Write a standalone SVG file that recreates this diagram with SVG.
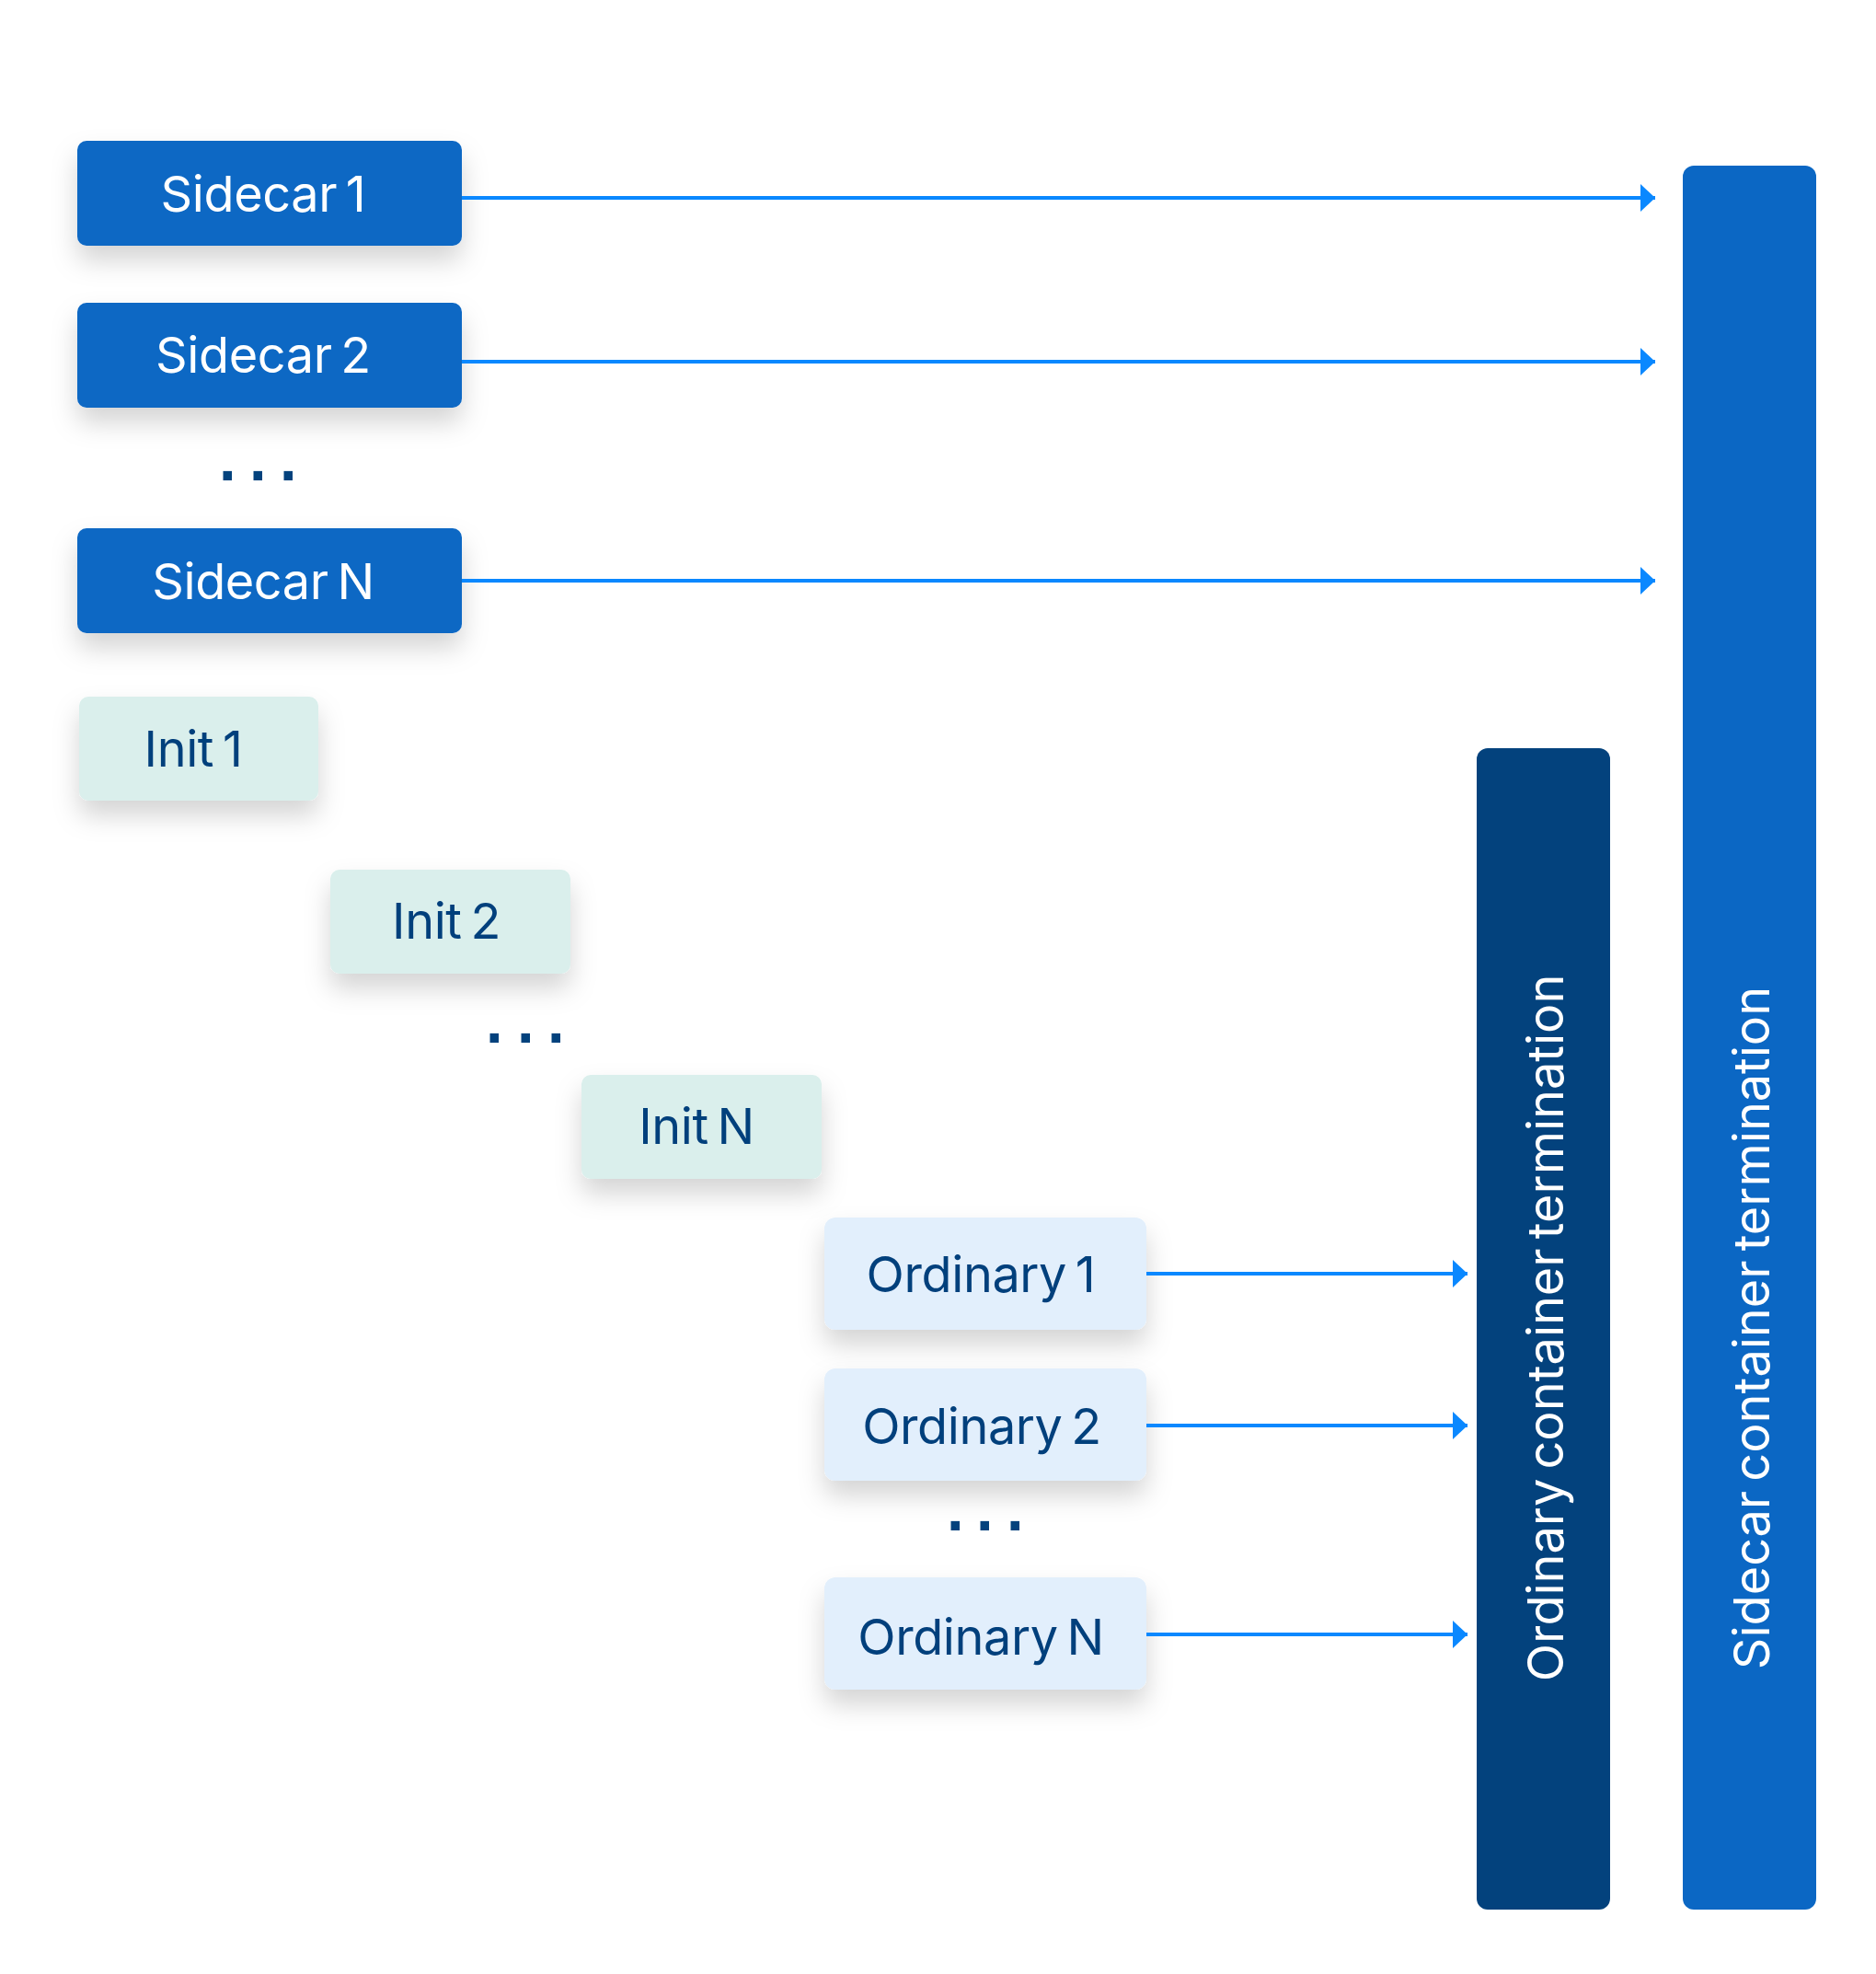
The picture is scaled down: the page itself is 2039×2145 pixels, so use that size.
<svg xmlns="http://www.w3.org/2000/svg" width="2039" height="2145" viewBox="0 0 2039 2145">
<style>
.lbl{font-family:Inter,"Noto Sans","Liberation Sans",sans-serif;font-size:54px;text-anchor:middle;letter-spacing:-0.4px;word-spacing:-5px}
.vert{letter-spacing:0px;word-spacing:-5px}
.w{fill:#ffffff}
.d{fill:#053F7C}
.dots{font-family:"DejaVu Sans","Liberation Sans",sans-serif;font-size:54px;font-weight:700;fill:#03427D}
.side{fill:#0B67C4}
.init{fill:#DAEFEC}
.ord{fill:#E2EFFC}
.conn{stroke:#0A88FF;stroke-width:4;fill:none}
</style>
<defs>
<filter id="sh" x="-30%" y="-40%" width="160%" height="200%">
<feDropShadow dx="0" dy="16" stdDeviation="14" flood-color="#000000" flood-opacity="0.17"/>
</filter>
<marker id="ah" markerUnits="userSpaceOnUse" markerWidth="16" markerHeight="30" refX="16" refY="15" orient="auto">
<path d="M0,0 L16,15 L0,30 Z" fill="#0A88FF"/>
</marker>
</defs>
<rect width="2039" height="2145" fill="#ffffff"/>
<g id="sidecar-termination">
<rect x="1829" y="180" width="145" height="1895" rx="12" class="side"/>
<text class="lbl vert w" transform="translate(1923,1443) rotate(-90)">Sidecar container termination</text>
</g>
<g id="ordinary-termination">
<rect x="1605" y="813" width="145" height="1262" rx="12" fill="#03427D"/>
<text class="lbl vert w" transform="translate(1699,1443) rotate(-90)">Ordinary container termination</text>
</g>
<g id="sidecar1" filter="url(#sh)">
<rect x="84" y="153" width="418" height="114" rx="10" class="side"/>
<text class="lbl w" x="286" y="230">Sidecar 1</text>
</g>
<g id="sidecar2" filter="url(#sh)">
<rect x="84" y="329" width="418" height="114" rx="10" class="side"/>
<text class="lbl w" x="286" y="405">Sidecar 2</text>
</g>
<g id="sidecar-dots">
<text class="dots" x="237 270 303" y="522">...</text>
</g>
<g id="sidecarN" filter="url(#sh)">
<rect x="84" y="574" width="418" height="114" rx="10" class="side"/>
<text class="lbl w" x="286" y="651">Sidecar N</text>
</g>
<g id="init1" filter="url(#sh)">
<rect x="86" y="757" width="260" height="113" rx="10" class="init"/>
<text class="lbl d" x="210" y="833">Init 1</text>
</g>
<g id="init2" filter="url(#sh)">
<rect x="359" y="945" width="261" height="113" rx="10" class="init"/>
<text class="lbl d" x="485" y="1020">Init 2</text>
</g>
<g id="init-dots">
<text class="dots" x="527 561 594" y="1133">...</text>
</g>
<g id="initN" filter="url(#sh)">
<rect x="632" y="1168" width="261" height="113" rx="10" class="init"/>
<text class="lbl d" x="757" y="1243">Init N</text>
</g>
<g id="ordinary1" filter="url(#sh)">
<rect x="896" y="1323" width="350" height="122" rx="12" class="ord"/>
<text class="lbl d" x="1066" y="1404">Ordinary 1</text>
</g>
<g id="ordinary2" filter="url(#sh)">
<rect x="896" y="1487" width="350" height="122" rx="12" class="ord"/>
<text class="lbl d" x="1067" y="1569">Ordinary 2</text>
</g>
<g id="ordinary-dots">
<text class="dots" x="1028 1060 1093" y="1663">...</text>
</g>
<g id="ordinaryN" filter="url(#sh)">
<rect x="896" y="1714" width="350" height="122" rx="12" class="ord"/>
<text class="lbl d" x="1066" y="1798">Ordinary N</text>
</g>
<g id="connectors">
<line class="conn" x1="502" y1="215" x2="1799" y2="215" marker-end="url(#ah)"/>
<line class="conn" x1="502" y1="393" x2="1799" y2="393" marker-end="url(#ah)"/>
<line class="conn" x1="502" y1="631" x2="1799" y2="631" marker-end="url(#ah)"/>
<line class="conn" x1="1246" y1="1384" x2="1595" y2="1384" marker-end="url(#ah)"/>
<line class="conn" x1="1246" y1="1549" x2="1595" y2="1549" marker-end="url(#ah)"/>
<line class="conn" x1="1246" y1="1776" x2="1595" y2="1776" marker-end="url(#ah)"/>
</g>
</svg>
